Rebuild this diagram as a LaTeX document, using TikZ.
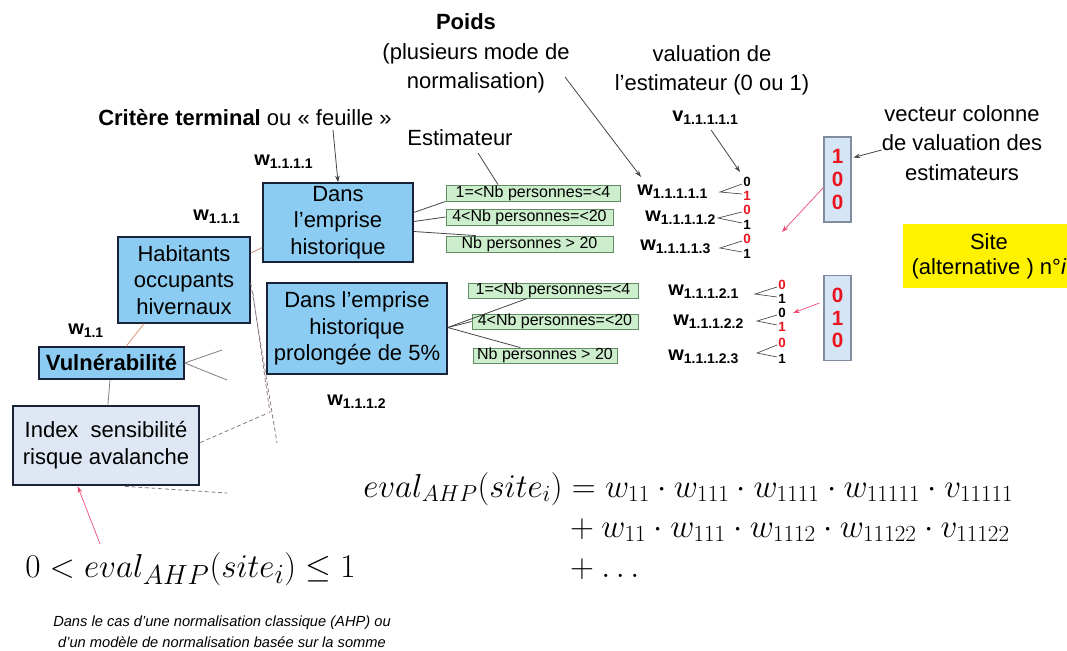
\documentclass[tikz,border=0pt]{standalone}
\usepackage{fontspec}
\setmainfont{Liberation Sans}
\usepackage{amsmath}
\usetikzlibrary{arrows.meta,calc}
\definecolor{boxblue}{RGB}{140,204,242}
\definecolor{boxline}{RGB}{25,35,55}
\definecolor{grfill}{RGB}{205,238,205}
\definecolor{grline}{RGB}{100,140,100}
\definecolor{idxfill}{RGB}{222,231,243}
\definecolor{vecfill}{RGB}{212,229,246}
\definecolor{vecline}{RGB}{130,140,160}
\definecolor{lnk}{RGB}{70,70,70}
\definecolor{pinkar}{RGB}{235,70,110}
\definecolor{dashc}{RGB}{140,120,130}
\definecolor{redd}{RGB}{235,20,30}
\definecolor{salmon}{RGB}{215,150,120}
\newcommand\wlab[2]{{\fontsize{15}{15}\selectfont\bfseries #1}{\fontsize{10.5}{12}\selectfont\bfseries\raisebox{-2.2pt}{#2}}}
\tikzset{
  bluebox/.style={draw=boxline, line width=1.1pt, fill=boxblue, align=center, inner sep=0pt, font=\fontsize{16.5}{20}\selectfont},
  grbox/.style={draw=grline, line width=0.6pt, fill=grfill, inner sep=0pt, font=\fontsize{12}{12}\selectfont},
  vecbox/.style={draw=vecline, line width=0.8pt, fill=vecfill, inner sep=0pt, align=center, text=redd, font=\fontsize{15.5}{17}\selectfont\bfseries},
  annot/.style={align=center, inner sep=0pt, font=\fontsize{16.5}{22}\selectfont},
  wl/.style={anchor=west, inner sep=0pt},
  dig/.style={inner sep=0pt, font=\fontsize{10}{10}\selectfont\bfseries},
  lk/.style={draw=lnk, line width=0.6pt},
  arr/.style={draw=lnk, line width=0.6pt, -{Stealth[length=5pt,width=3.5pt]}},
  parr/.style={draw=pinkar, line width=0.5pt, -{Stealth[length=5pt,width=3.5pt]}},
  dsh/.style={draw=dashc, line width=0.6pt, dash pattern=on 3pt off 2pt},
}
\begin{document}
\begin{tikzpicture}[x=0.75pt,y=-0.75pt]
\useasboundingbox (0,0) rectangle (1067,650);
\clip (0,0) rectangle (1067,650);
\fill[white] (0,0) rectangle (1067,650);

% annotations
\node[annot, font=\fontsize{16.5}{22}\selectfont\bfseries] (poids) at (466,22) {Poids};
\node[annot] (pdesc) at (476,68) {(plusieurs mode de\\normalisation)};
\node[annot] (valu) at (712,70) {valuation de\\l’estimateur (0 ou 1)};
\node[wl] (vlab) at (672,118) {\wlab{v}{1.1.1.1.1}};
\node[annot, anchor=west] (crit) at (98,118) {\textbf{Critère terminal} ou « feuille »};
\node[annot] (estim) at (460,138) {Estimateur};
\node[annot] (vect) at (962,143) {vecteur colonne\\de valuation des\\estimateurs};

% w labels
\node[wl] (w1111) at (254,162) {\wlab{w}{1.1.1.1}};
\node[wl] (w111) at (193,217) {\wlab{w}{1.1.1}};
\node[wl] (w11) at (68,331) {\wlab{w}{1.1}};
\node[wl] (w1112) at (327,402) {\wlab{w}{1.1.1.2}};

% blue boxes
\node[bluebox, minimum width=112.5pt, minimum height=59.25pt] (dans1) at (338,222.5) {Dans\\l’emprise\\historique};
\node[bluebox, minimum width=99pt, minimum height=64.5pt] (hab) at (184,280) {Habitants\\occupants\\hivernaux};
\node[bluebox, minimum width=135pt, minimum height=68.25pt] (dans2) at (357,328.5) {Dans l’emprise\\historique\\prolongée de 5\%};
\node[bluebox, minimum width=108.75pt, minimum height=24pt, font=\fontsize{16.5}{20}\selectfont\bfseries] (vuln) at (111.5,363) {Vulnérabilité};
\node[bluebox, fill=idxfill, line width=2pt, minimum width=139.5pt, minimum height=59.25pt] (index) at (106,445.5) {Index\ \ sensibilité\\risque avalanche};

% green boxes
\node[grbox, minimum width=130.5pt, minimum height=12pt] (g1) at (533,193) {1=<Nb personnes=<4};
\node[grbox, minimum width=125.25pt, minimum height=12pt] (g2) at (529.5,217) {4<Nb personnes=<20};
\node[grbox, minimum width=125.25pt, minimum height=12pt] (g3) at (529.5,244) {Nb personnes > 20};
\node[grbox, minimum width=127.5pt, minimum height=11.25pt] (g4) at (553,290.5) {1=<Nb personnes=<4};
\node[grbox, minimum width=124.5pt, minimum height=11.25pt] (g5) at (555,321.5) {4<Nb personnes=<20};
\node[grbox, minimum width=108pt, minimum height=11.25pt] (g6) at (545,355.5) {Nb personnes > 20};

% tree links
\draw[lk] ($(dans1.east)+(0,-10)$) -- (g1.south west);
\draw[lk] ($(dans1.east)+(0,-1)$) -- (g2.west);
\draw[lk] ($(dans1.east)+(0,9)$) -- ($(g3.north west)!0.18!(g3.north east)$);
\draw[lk] ($(dans2.east)+(0,-1)$) -- ($(g4.south west)!0.35!(g4.south east)$);
\draw[lk] ($(dans2.east)+(0,-1)$) -- (g5.west);
\draw[lk] ($(dans2.east)+(0,-1)$) -- ($(g6.north west)!0.33!(g6.north east)$);
\draw[draw=salmon!80!gray, line width=0.6pt] ($(hab.east)+(0,-27)$) -- ($(dans1.west)+(0,25)$);
\draw[draw=salmon, line width=0.6pt] ($(hab.south west)!0.2!(hab.south east)$) -- ($(vuln.north west)!0.6!(vuln.north east)$);
\draw[lk, draw=gray] ($(vuln.south west)!0.49!(vuln.south east)$) -- ($(index.north west)!0.51!(index.north east)$);
\coordinate (v1) at (222,350);
\coordinate (v2) at (227,380);
\draw[lk, draw=gray] (vuln.east) -- (v1);
\draw[lk, draw=gray] (vuln.east) -- (v2);
\coordinate (d1) at (277,443);
\coordinate (d2) at (270,413);
\coordinate (d3) at (268,413);
\coordinate (d4) at (227,493);
\draw[dsh] ($(hab.east)+(0,3)$) -- (d1);
\draw[dsh] ($(hab.east)+(2,12)$) -- (d2);
\draw[dsh] ($(index.east)+(0,-3)$) -- (d3);
\draw[dsh] ($(index.south west)!0.6!(index.south east)$) -- (d4);

% w rows and digits
\node[wl] (r1) at (637,192) {\wlab{w}{1.1.1.1.1}};
\node[wl] (r2) at (645,218) {\wlab{w}{1.1.1.1.2}};
\node[wl] (r3) at (640,247) {\wlab{w}{1.1.1.1.3}};
\node[wl] (r4) at (668,292) {\wlab{w}{1.1.1.2.1}};
\node[wl] (r5) at (673,322) {\wlab{w}{1.1.1.2.2}};
\node[wl] (r6) at (668,357) {\wlab{w}{1.1.1.2.3}};

\node[dig] (a1) at (747,182) {0};
\node[dig, text=redd] (b1) at (747,196) {1};
\node[dig, text=redd] (a2) at (747,210) {0};
\node[dig] (b2) at (747,225) {1};
\node[dig, text=redd] (a3) at (747,239) {0};
\node[dig] (b3) at (747,254) {1};
\node[dig, text=redd] (a4) at (782,285) {0};
\node[dig] (b4) at (782,299) {1};
\node[dig] (a5) at (782,313) {0};
\node[dig, text=redd] (b5) at (782,327) {1};
\node[dig, text=redd] (a6) at (782,343) {0};
\node[dig] (b6) at (782,359) {1};

\coordinate (s1) at (720,192);
\coordinate (s2) at (718,218);
\coordinate (s3) at (720,248);
\coordinate (s4) at (755,294);
\coordinate (s5) at (757,321);
\coordinate (s6) at (757,353);
\foreach \i in {1,...,6} {
  \draw[lk, line width=0.5pt] ($(a\i.west)+(-1,2)$) -- (s\i) -- ($(b\i.west)+(-1,-2)$);
}

% vectors
\node[vecbox, minimum width=20.25pt, minimum height=63.75pt] (vec1) at (837.5,179.5) {1\\0\\0};
\node[vecbox, minimum width=20.25pt, minimum height=63.75pt] (vec2) at (837.5,318) {0\\1\\0};

% site
\node[fill=yellow, inner sep=0pt, minimum width=129pt, minimum height=48pt, align=center, font=\fontsize{16.5}{19}\selectfont] (site) at (989,256) {Site\\(alternative ) n°\textit{i}};

% arrows
\coordinate (c1) at (333,130);
\draw[arr] (c1) -- (dans1.north);
\coordinate (e1) at (478,153);
\draw[lk] (e1) -- ($(g1.north west)!0.3!(g1.north east)$);
\coordinate (p1) at (565,77);
\draw[arr] (p1) -- ($(r1.north west)+(4,-8)$);
\draw[arr] ($(vlab.south)+(6,5)$) -- ($(a1.north)+(-7,-5)$);
\draw[arr] ($(vect.west)+(0,7)$) -- ($(vec1.east)+(2,-22)$);
\coordinate (t1) at (782,232);
\draw[parr] ($(vec1.west)+(0,8)$) -- (t1);
\coordinate (t2) at (793,313);
\draw[parr] ($(vec2.west)+(-4,-15)$) -- (t2);

% formulas
\node[anchor=base west, inner sep=0pt, font=\fontsize{23.7}{28}\selectfont] (f1) at (363,497) {\setlength{\jot}{2pt}$\begin{aligned}[t] eval_{AHP}(site_i) &= w_{11}\cdot w_{111}\cdot w_{1111}\cdot w_{11111}\cdot v_{11111}\\ &+ w_{11}\cdot w_{111}\cdot w_{1112}\cdot w_{11122}\cdot v_{11122}\\ &+ \ldots\end{aligned}$};
\node[anchor=base west, inner sep=0pt, font=\fontsize{28}{32}\selectfont] (f2) at (25,577) {$0 < eval_{AHP}(site_i) \leq 1$};
\draw[parr] ($(f2.north west)+(75,-8)$) -- ($(index.south west)!0.35!(index.south east)$);
\node[align=center, inner sep=0pt, font=\itshape\fontsize{11}{15.5}\selectfont] (note) at (222,632) {Dans le cas d’une normalisation classique (AHP) ou\\d’un modèle de normalisation basée sur la somme};
\end{tikzpicture}
\end{document}
